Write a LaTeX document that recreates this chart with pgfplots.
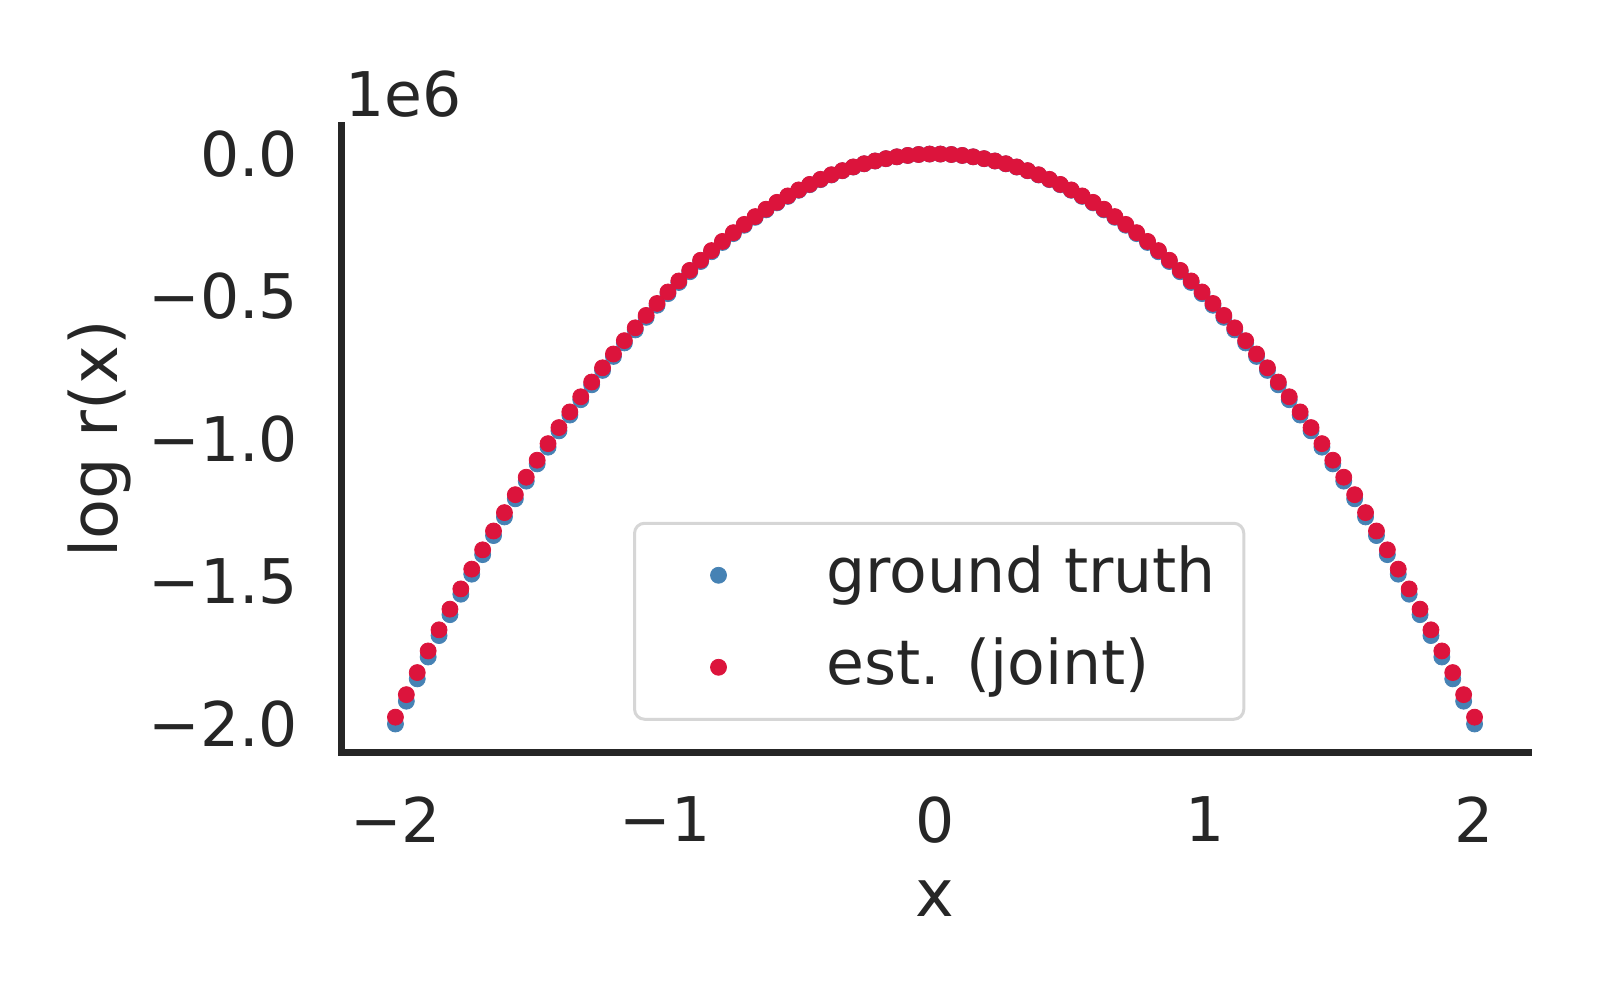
\documentclass[border=0pt]{standalone}
\usepackage{pgfplots}
\pgfplotsset{compat=1.18}
\usepackage{pgfplotstable}
\usepackage{fontspec}
\setmainfont{DejaVu Sans}
\definecolor{cblue}{HTML}{4682B4}
\definecolor{cred}{HTML}{DC143C}
\definecolor{cdark}{HTML}{262626}
\definecolor{cframe}{HTML}{D6D6D6}
\pgfplotstableread{
x gt est
-2.0000 -2.0000 -1.9760
-1.9596 -1.9200 -1.8970
-1.9192 -1.8416 -1.8196
-1.8788 -1.7649 -1.7437
-1.8384 -1.6898 -1.6696
-1.7980 -1.6164 -1.5970
-1.7576 -1.5445 -1.5260
-1.7172 -1.4743 -1.4566
-1.6768 -1.4058 -1.3889
-1.6364 -1.3388 -1.3228
-1.5960 -1.2735 -1.2583
-1.5556 -1.2099 -1.1954
-1.5152 -1.1478 -1.1341
-1.4747 -1.0874 -1.0744
-1.4343 -1.0287 -1.0163
-1.3939 -0.9715 -0.9599
-1.3535 -0.9160 -0.9050
-1.3131 -0.8622 -0.8518
-1.2727 -0.8099 -0.8002
-1.2323 -0.7593 -0.7502
-1.1919 -0.7103 -0.7018
-1.1515 -0.6630 -0.6550
-1.1111 -0.6173 -0.6099
-1.0707 -0.5732 -0.5663
-1.0303 -0.5308 -0.5244
-0.9899 -0.4900 -0.4841
-0.9495 -0.4508 -0.4454
-0.9091 -0.4132 -0.4083
-0.8687 -0.3773 -0.3728
-0.8283 -0.3430 -0.3389
-0.7879 -0.3104 -0.3067
-0.7475 -0.2794 -0.2760
-0.7071 -0.2500 -0.2470
-0.6667 -0.2222 -0.2196
-0.6263 -0.1961 -0.1937
-0.5859 -0.1716 -0.1696
-0.5455 -0.1488 -0.1470
-0.5051 -0.1275 -0.1260
-0.4646 -0.1079 -0.1067
-0.4242 -0.0900 -0.0889
-0.3838 -0.0737 -0.0728
-0.3434 -0.0590 -0.0583
-0.3030 -0.0459 -0.0454
-0.2626 -0.0345 -0.0341
-0.2222 -0.0247 -0.0244
-0.1818 -0.0165 -0.0163
-0.1414 -0.0100 -0.0099
-0.1010 -0.0051 -0.0050
-0.0606 -0.0018 -0.0018
-0.0202 -0.0002 -0.0002
0.0202 -0.0002 -0.0002
0.0606 -0.0018 -0.0018
0.1010 -0.0051 -0.0050
0.1414 -0.0100 -0.0099
0.1818 -0.0165 -0.0163
0.2222 -0.0247 -0.0244
0.2626 -0.0345 -0.0341
0.3030 -0.0459 -0.0454
0.3434 -0.0590 -0.0583
0.3838 -0.0737 -0.0728
0.4242 -0.0900 -0.0889
0.4646 -0.1079 -0.1067
0.5051 -0.1275 -0.1260
0.5455 -0.1488 -0.1470
0.5859 -0.1716 -0.1696
0.6263 -0.1961 -0.1937
0.6667 -0.2222 -0.2196
0.7071 -0.2500 -0.2470
0.7475 -0.2794 -0.2760
0.7879 -0.3104 -0.3067
0.8283 -0.3430 -0.3389
0.8687 -0.3773 -0.3728
0.9091 -0.4132 -0.4083
0.9495 -0.4508 -0.4454
0.9899 -0.4900 -0.4841
1.0303 -0.5308 -0.5244
1.0707 -0.5732 -0.5663
1.1111 -0.6173 -0.6099
1.1515 -0.6630 -0.6550
1.1919 -0.7103 -0.7018
1.2323 -0.7593 -0.7502
1.2727 -0.8099 -0.8002
1.3131 -0.8622 -0.8518
1.3535 -0.9160 -0.9050
1.3939 -0.9715 -0.9599
1.4343 -1.0287 -1.0163
1.4747 -1.0874 -1.0744
1.5152 -1.1478 -1.1341
1.5556 -1.2099 -1.1954
1.5960 -1.2735 -1.2583
1.6364 -1.3388 -1.3228
1.6768 -1.4058 -1.3889
1.7172 -1.4743 -1.4566
1.7576 -1.5445 -1.5260
1.7980 -1.6164 -1.5970
1.8384 -1.6898 -1.6696
1.8788 -1.7649 -1.7437
1.9192 -1.8416 -1.8196
1.9596 -1.9200 -1.8970
2.0000 -2.0000 -1.9760
}\datatable

\begin{document}
\begin{tikzpicture}[font=\fontsize{30.8}{37}\selectfont]
\path[use as bounding box] (-170.75pt,-123.75pt) rectangle (629.25pt,376.25pt);
\begin{axis}[
  at={(0pt,0pt)}, anchor=south west,
  scale only axis, width=593.5pt, height=313.5pt,
  xmin=-2.2, xmax=2.2, ymin=-2.1, ymax=0.1,
  axis x line*=bottom, axis y line*=left,
  axis line style={-, line width=3.3pt, color=cdark, line cap=rect},
  major tick length=0pt,
  xtick={-2,-1,0,1,2}, xticklabels={−2,−1,0,1,2},
  ytick={-2,-1.5,-1,-0.5,0}, yticklabels={−2.0,−1.5,−1.0,−0.5,0.0},
  xticklabel style={anchor=north, yshift=-22pt, inner sep=0pt},
  yticklabel style={anchor=east, xshift=-21.5pt, inner sep=0pt},
  tick label style={font=\fontsize{30.8}{37}\selectfont, text=cdark},
  xlabel={x}, ylabel={log r(x)},
  every axis x label/.style={at={(axis description cs:0.5,-0.2608)}, anchor=base, inner sep=0pt, text=cdark, font=\fontsize{32.7}{39}\selectfont},
  every axis y label/.style={at={(axis description cs:-0.1891,0.5)}, rotate=90, anchor=base, inner sep=0pt, text=cdark, font=\fontsize{32.7}{39}\selectfont},
  legend style={at={(0.2456,0.368)}, anchor=north west, draw=cframe, line width=1.5pt, rounded corners=5pt, fill=white, inner xsep=14pt, inner ysep=3pt, font=\fontsize{30.8}{37}\selectfont, text=cdark, nodes={inner sep=0pt, text depth=}, column sep=0pt},
  legend cell align=left,
  legend image code/.code={\path[draw=none, fill=none] (-28pt,-23pt) rectangle (54pt,23pt); \draw[#1, line width=0.4pt, sharp corners] plot coordinates {(0pt,0pt)};},
  clip=false,
]
\addplot[only marks, mark=*, mark size=4pt, color=cblue, mark options={draw=cblue, fill=cblue, line width=0.4pt}] table[x=x,y=gt]{\datatable};
\addlegendentry{ground truth}
\addplot[only marks, mark=*, mark size=4pt, color=cred, mark options={draw=cred, fill=cred, line width=0.4pt}] table[x=x,y=est]{\datatable};
\addlegendentry{est. (joint)}
\node[anchor=base west, inner sep=0pt, text=cdark] at (axis description cs:0.003,1.0136) {1e6};
\end{axis}
\end{tikzpicture}
\end{document}
